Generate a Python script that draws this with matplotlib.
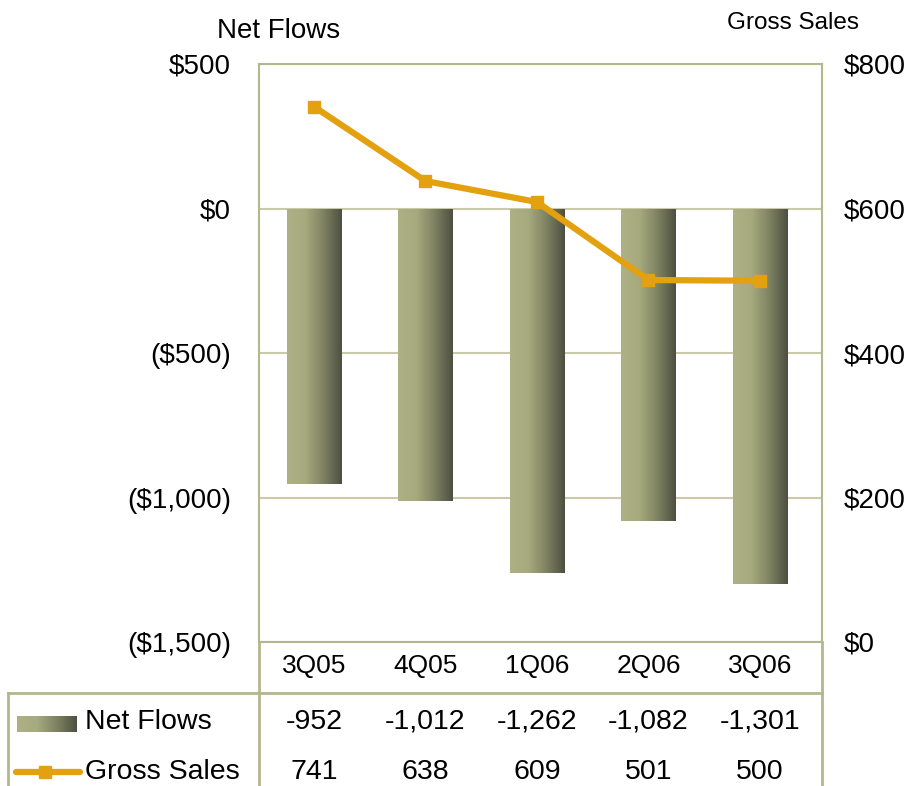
import numpy as np
import matplotlib
matplotlib.use("Agg")
from matplotlib import pyplot as plt
from matplotlib.patches import Rectangle
from matplotlib.lines import Line2D

plt.rcParams['font.family'] = ['Liberation Sans', 'DejaVu Sans']

quarters = ["3Q05", "4Q05", "1Q06", "2Q06", "3Q06"]
net_flows = [-952, -1012, -1262, -1082, -1301]
gross_sales = [741, 638, 609, 501, 500]
left_ticks = [500, 0, -500, -1000, -1500]
left_labels = ["$500", "$0", "($500)", "($1,000)", "($1,500)"]
right_ticks = [800, 600, 400, 200, 0]
right_labels = ["$800", "$600", "$400", "$200", "$0"]

W, H = 907, 786
fig = plt.figure(figsize=(W / 100, H / 100), dpi=100)
ax = fig.add_axes([259 / W, 1 - 642 / H, (822 - 259) / W, (642 - 64) / H])
ax2 = ax.twinx()

edge = "#b3b78b"
grid_c = "#c9caa9"
orange = "#e3a10f"
xlim = (-0.493, 4.556)

# gradient bars
grad = np.linspace(0, 1, 256).reshape(1, -1)
cmap = matplotlib.colors.LinearSegmentedColormap.from_list(
    "olive", ["#adb185", "#a6aa7e", "#7e8262", "#4d5040"])
bw = 0.49
for i, v in enumerate(net_flows):
    im = ax.imshow(grad, cmap=cmap, aspect="auto",
                   extent=[i - bw / 2, i + bw / 2, v, 0], zorder=3)
    r = Rectangle((i - bw / 2, v), bw, -v, facecolor="none", edgecolor="none")
    ax.add_patch(r)
    im.set_clip_path(r)
ax.set_xlim(*xlim)
ax.set_ylim(-1500, 500)
ax2.set_ylim(0, 800)

ax.set_yticks(left_ticks)
ax.set_yticklabels(left_labels, fontsize=20)
ax.yaxis.grid(True, color=grid_c, linewidth=1.5, zorder=0)
ax.set_axisbelow(True)
ax.tick_params(axis="y", length=0, pad=20)
ax.set_xticks([])
for s in ax.spines.values():
    s.set_color(edge)
    s.set_linewidth(1.5)

ax2.plot(range(len(quarters)), gross_sales, color=orange, linewidth=4.5,
         marker="s", markersize=9, zorder=5)
ax2.set_xlim(*xlim)
ax2.set_yticks(right_ticks)
ax2.set_yticklabels(right_labels, fontsize=20)
ax2.tick_params(axis="y", length=0, pad=16)
for s in ax2.spines.values():
    s.set_visible(False)

fig.text(279 / W, 1 - 31 / H, "Net Flows", fontsize=20, ha="center", va="center")
fig.text(793 / W, 1 - 23 / H, "Gross Sales", fontsize=17.5, ha="center", va="center")

# data table
lw = 2
for x in [259, 822]:
    fig.add_artist(Line2D([x / W, x / W], [1 - 642 / H, 0], color=edge, linewidth=lw))
fig.add_artist(Line2D([8 / W, 8 / W], [1 - 693 / H, 0], color=edge, linewidth=lw))
fig.add_artist(Line2D([8 / W, 822 / W], [1 - 693 / H, 1 - 693 / H], color=edge, linewidth=lw))

for i, q in enumerate(quarters):
    xc = ax.transData.transform((i, 0))[0] / W
    fig.text(xc, 1 - 666 / H, q, fontsize=19, ha="center", va="center")
    fig.text(xc, 1 - 722 / H, f"{net_flows[i]:,}", fontsize=20.5, ha="center", va="center")
    fig.text(xc, 1 - 772 / H, f"{gross_sales[i]:,}", fontsize=20.5, ha="center", va="center")

# legend keys in table
kax = fig.add_axes([17 / W, 1 - 732 / H, 60 / W, 16 / H])
kax.imshow(grad, cmap=cmap, aspect="auto")
kax.axis("off")
fig.add_artist(Line2D([16 / W, 80 / W], [1 - 772 / H, 1 - 772 / H], color=orange,
                      linewidth=4.5, solid_capstyle="round"))
fig.add_artist(Line2D([45 / W], [1 - 772 / H], color=orange, marker="s", markersize=9))
fig.text(85 / W, 1 - 722 / H, "Net Flows", fontsize=20.5, ha="left", va="center")
fig.text(85 / W, 1 - 772 / H, "Gross Sales", fontsize=20.5, ha="left", va="center")

fig.savefig("out.png", dpi=100)
